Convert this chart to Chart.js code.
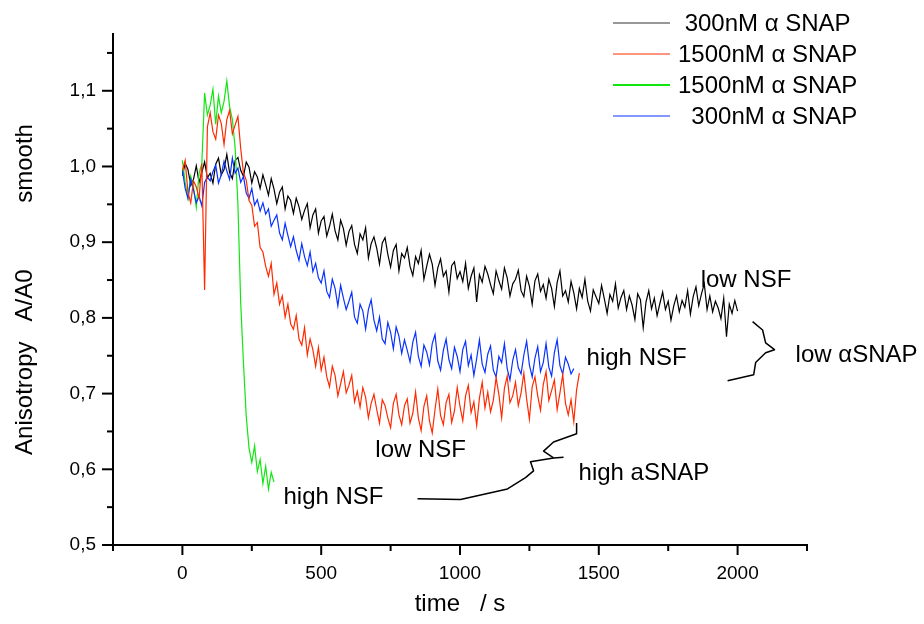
<!DOCTYPE html>
<html>
<head>
<meta charset="utf-8">
<script src="https://cdn.jsdelivr.net/npm/chart.js@4.4.1/dist/chart.umd.min.js"></script>
<style>
  html, body { margin: 0; padding: 0; background: #fff; }
</style>
</head>
<body>
<canvas id="chart" width="924" height="624"></canvas>
<script>
// sampling step of the traces, in seconds
const dt = 10;

const seriesLabels = [" 300nM \u03B1 SNAP", "1500nM \u03B1 SNAP", "1500nM \u03B1 SNAP", "  300nM \u03B1 SNAP"];
const seriesColors = ["#000000", "#ff2a00", "#11e611", "#0a32ff"];

// 300nM aSNAP, low NSF (black)
const lowSnapLowNsf = [
  0.988, 1.004, 0.996, 0.975, 0.983, 1.001, 0.979, 0.992, 1.006, 0.985,
  0.991, 0.978, 1.003, 1.011, 0.989, 0.996, 1.016, 0.992, 0.984, 1.008,
  1.012, 0.995, 0.987, 1.006, 0.999, 0.978, 0.993, 0.986, 0.971, 0.989,
  0.976, 0.962, 0.984, 0.970, 0.951, 0.966, 0.973, 0.944, 0.961, 0.955,
  0.938, 0.958, 0.947, 0.930, 0.942, 0.951, 0.919, 0.936, 0.944, 0.912,
  0.928, 0.934, 0.908, 0.921, 0.937, 0.915, 0.903, 0.929, 0.918, 0.896,
  0.914, 0.922, 0.897, 0.885, 0.911, 0.903, 0.919, 0.879, 0.898, 0.907,
  0.892, 0.871, 0.899, 0.906, 0.884, 0.867, 0.889, 0.897, 0.862, 0.885,
  0.879, 0.893, 0.868, 0.856, 0.881, 0.872, 0.889, 0.851, 0.868, 0.884,
  0.871, 0.843, 0.866, 0.878, 0.855, 0.862, 0.834, 0.869, 0.874, 0.852,
  0.861, 0.848, 0.872, 0.839, 0.855, 0.866, 0.821, 0.857, 0.847, 0.868,
  0.858, 0.844, 0.832, 0.862, 0.849, 0.838, 0.866, 0.853, 0.829, 0.845,
  0.851, 0.863, 0.836, 0.828, 0.855, 0.842, 0.818, 0.849, 0.858, 0.835,
  0.844, 0.826, 0.851, 0.839, 0.815, 0.847, 0.862, 0.829, 0.836, 0.821,
  0.848, 0.833, 0.812, 0.839, 0.827, 0.851, 0.822, 0.809, 0.837, 0.828,
  0.819, 0.843, 0.825, 0.806, 0.831, 0.822, 0.845, 0.813, 0.827, 0.836,
  0.811, 0.829, 0.817, 0.798, 0.832, 0.824, 0.787, 0.821, 0.836, 0.812,
  0.826, 0.803, 0.819, 0.834, 0.811, 0.822, 0.797, 0.816, 0.829, 0.808,
  0.823, 0.814, 0.836, 0.805, 0.828, 0.841, 0.816, 0.832, 0.845, 0.811,
  0.829, 0.808, 0.822, 0.813, 0.799, 0.826, 0.775, 0.818, 0.806, 0.823,
  0.809
];

// 1500nM aSNAP, low NSF (red)
const highSnapLowNsf = [
  0.995, 1.008, 0.966, 0.952, 0.981, 0.973, 0.958, 1.004, 0.837, 1.052,
  1.071, 1.046, 1.036, 1.068, 1.057, 1.029, 1.062, 1.074, 1.043, 1.055,
  1.066, 1.024, 0.991, 0.982, 0.955, 0.949, 0.921, 0.926, 0.893, 0.887,
  0.868, 0.855, 0.872, 0.831, 0.846, 0.818, 0.829, 0.801, 0.818, 0.792,
  0.785, 0.803, 0.772, 0.764, 0.787, 0.751, 0.772, 0.758, 0.736, 0.761,
  0.731, 0.748, 0.722, 0.709, 0.736, 0.724, 0.697, 0.713, 0.729, 0.701,
  0.711, 0.724, 0.689, 0.703, 0.682, 0.708, 0.695, 0.668, 0.687, 0.699,
  0.679, 0.661, 0.692, 0.684, 0.668, 0.655, 0.687, 0.699, 0.672, 0.659,
  0.684, 0.693, 0.661, 0.674, 0.702, 0.668, 0.651, 0.683, 0.697, 0.664,
  0.648, 0.679, 0.706, 0.671, 0.659, 0.688, 0.699, 0.662, 0.677, 0.708,
  0.683, 0.664, 0.697, 0.711, 0.675, 0.689, 0.658, 0.694, 0.715, 0.681,
  0.702, 0.676, 0.691, 0.721, 0.699, 0.668, 0.707, 0.723, 0.688, 0.697,
  0.715, 0.684, 0.701, 0.727, 0.693, 0.666, 0.709, 0.722, 0.697, 0.678,
  0.712, 0.729, 0.691, 0.704, 0.718, 0.679, 0.701, 0.725, 0.687, 0.672,
  0.692, 0.663, 0.705, 0.727
];

// 1500nM aSNAP, high NSF (green)
const highSnapHighNsf = [
  1.008, 0.979, 0.958, 0.987, 0.972, 0.946, 0.991, 1.004, 1.097, 1.068,
  1.081, 1.102, 1.056, 1.093, 1.071, 1.086, 1.113, 1.079, 1.062, 1.024,
  0.950, 0.820, 0.740, 0.670, 0.628, 0.609, 0.631, 0.597, 0.613, 0.581,
  0.604, 0.574, 0.596, 0.583
];

// 300nM aSNAP, high NSF (blue)
const lowSnapHighNsf = [
  0.995, 0.971, 0.958, 0.983, 0.969, 0.952, 0.961, 0.948, 0.979, 0.986,
  0.981, 0.993, 1.002, 0.978, 0.989, 1.007, 0.994, 0.983, 1.011, 0.991,
  0.998, 0.979, 0.987, 0.965, 0.958, 0.971, 0.949, 0.956, 0.941, 0.952,
  0.937, 0.944, 0.921, 0.929, 0.936, 0.912, 0.903, 0.925, 0.909, 0.894,
  0.907, 0.889, 0.876, 0.898, 0.881, 0.869, 0.887, 0.861, 0.872, 0.853,
  0.846, 0.862, 0.835, 0.827, 0.851, 0.839, 0.816, 0.843, 0.826, 0.811,
  0.822, 0.834, 0.801, 0.793, 0.818, 0.809, 0.785, 0.811, 0.824, 0.797,
  0.783, 0.801, 0.772, 0.766, 0.794, 0.781, 0.759, 0.788, 0.776, 0.753,
  0.771, 0.757, 0.742, 0.768, 0.781, 0.749, 0.736, 0.764, 0.755, 0.738,
  0.766, 0.778, 0.743, 0.731, 0.757, 0.772, 0.745, 0.733, 0.761, 0.749,
  0.729, 0.758, 0.769, 0.737, 0.751, 0.724, 0.746, 0.771, 0.739, 0.728,
  0.752, 0.763, 0.731, 0.722, 0.749, 0.741, 0.766, 0.733, 0.718, 0.744,
  0.758, 0.734, 0.726, 0.751, 0.769, 0.738, 0.722, 0.747, 0.762, 0.729,
  0.741, 0.766, 0.735, 0.723, 0.754, 0.771, 0.737, 0.726, 0.748, 0.739,
  0.726, 0.733
];

const xTicks = [-250, 0, 250, 500, 750, 1000, 1250, 1500, 1750, 2000, 2250];
const xLabels = ["", "0", "", "500", "", "1000", "", "1500", "", "2000", ""];
const yTicks = [0.5, 0.55, 0.6, 0.65, 0.7, 0.75, 0.8, 0.85, 0.9, 0.95, 1.0, 1.05, 1.1, 1.15];
const yLabels = ["0,5", "", "0,6", "", "0,7", "", "0,8", "", "0,9", "", "1,0", "", "1,1", ""];

// hand drawn labels and braces, in data units (time, anisotropy)
const notes = [
  { text: "low NSF", t: 1867, v: 0.841 },
  { text: "high NSF", t: 1456, v: 0.738 },
  { text: "low \u03B1SNAP", t: 2209, v: 0.742 },
  { text: "low NSF", t: 695, v: 0.616 },
  { text: "high NSF", t: 364, v: 0.554 },
  { text: "high aSNAP", t: 1427, v: 0.586 }
];
const braces = [
  [[2054, 0.795], [2090, 0.784], [2101, 0.767], [2133, 0.758], [2101, 0.754], [2065, 0.741], [2058, 0.725], [1964, 0.717]],
  [[1420, 0.661], [1420, 0.647], [1337, 0.636], [1301, 0.624], [1337, 0.615], [1373, 0.616]],
  [[1337, 0.615], [1254, 0.610], [1265, 0.598], [1236, 0.589], [1171, 0.574], [1002, 0.560], [847, 0.561]]
];

const FONT = "'Liberation Sans', Arial, sans-serif";

function toPoints(values) {
  return values.map((v, i) => ({ x: i * dt, y: v }));
}

const traces = [lowSnapLowNsf, highSnapLowNsf, highSnapHighNsf, lowSnapHighNsf];
const drawOrder = [3, 0, 2, 1];

const decorations = {
  id: "decorations",
  afterDraw(chart) {
    const ctx = chart.ctx;
    const xs = chart.scales.x, ys = chart.scales.y;
    const area = chart.chartArea;
    ctx.save();
    ctx.strokeStyle = "#000";
    ctx.lineWidth = 2;
    // tick marks, outside the axes
    xTicks.forEach((v, i) => {
      const px = xs.getPixelForValue(v);
      const len = xLabels[i] !== "" ? 10 : 6;
      ctx.beginPath();
      ctx.moveTo(px, area.bottom);
      ctx.lineTo(px, area.bottom + len);
      ctx.stroke();
    });
    yTicks.forEach((v, i) => {
      const py = ys.getPixelForValue(v);
      const len = yLabels[i] !== "" ? 11 : 6;
      ctx.beginPath();
      ctx.moveTo(area.left, py);
      ctx.lineTo(area.left - len, py);
      ctx.stroke();
    });

    // braces
    ctx.lineWidth = 1.5;
    ctx.lineJoin = "round";
    braces.forEach(path => {
      ctx.beginPath();
      path.forEach(([t, v], k) => {
        const px = xs.getPixelForValue(t), py = ys.getPixelForValue(v);
        if (k === 0) ctx.moveTo(px, py); else ctx.lineTo(px, py);
      });
      ctx.stroke();
    });

    // notes
    ctx.fillStyle = "#000";
    ctx.font = "24px " + FONT;
    ctx.textBaseline = "alphabetic";
    ctx.textAlign = "left";
    notes.forEach(n => {
      ctx.fillText(n.text, xs.getPixelForValue(n.t), ys.getPixelForValue(n.v));
    });

    // legend
    ctx.font = "24px " + FONT;
    ctx.textBaseline = "middle";
    chart.data.datasets.forEach((ds, i) => {
      const y = 23 + i * 31;
      ctx.strokeStyle = i === 0 ? "#333" : ds.borderColor;
      ctx.lineWidth = i === 2 ? 2 : 1.2;
      ctx.beginPath();
      ctx.moveTo(613, y);
      ctx.lineTo(670, y);
      ctx.stroke();
      ctx.fillText(ds.label, 678, y + 1);
    });
    ctx.restore();
  }
};

new Chart(document.getElementById("chart"), {
  type: "line",
  data: {
    datasets: traces.map((vals, i) => ({
      label: seriesLabels[i],
      data: toPoints(vals),
      borderColor: seriesColors[i],
      borderWidth: 1.2,
      pointRadius: 0,
      tension: 0,
      fill: false,
      order: drawOrder[i]
    }))
  },
  options: {
    responsive: false,
    animation: false,
    devicePixelRatio: 1,
    layout: { padding: { top: 34, right: 117, left: 0, bottom: 0 } },
    plugins: {
      legend: { display: false },
      tooltip: { enabled: false }
    },
    scales: {
      x: {
        type: "linear",
        min: -250,
        max: 2250,
        afterBuildTicks: s => { s.ticks = xTicks.map(v => ({ value: v })); },
        afterFit: s => { s.height = 79; s.paddingLeft = 0; s.paddingRight = 0; },
        grid: { display: false, drawTicks: false },
        border: { display: true, color: "#000", width: 2 },
        ticks: {
          color: "#000",
          font: { family: FONT, size: 19 },
          padding: 17,
          maxRotation: 0,
          autoSkip: false,
          callback: (v, i) => xLabels[i]
        },
        title: {
          display: true,
          text: "time   / s",
          color: "#000",
          font: { family: FONT, size: 24 },
          padding: { top: 0, bottom: 5 }
        }
      },
      y: {
        type: "linear",
        min: 0.5,
        max: 1.175,
        afterBuildTicks: s => { s.ticks = yTicks.map(v => ({ value: v })); },
        afterFit: s => { s.width = 113; s.paddingTop = 0; s.paddingBottom = 0; },
        grid: { display: false, drawTicks: false },
        border: { display: true, color: "#000", width: 2 },
        ticks: {
          color: "#000",
          font: { family: FONT, size: 19 },
          padding: 17,
          autoSkip: false,
          callback: (v, i) => yLabels[i]
        },
        title: {
          display: true,
          text: "Anisotropy   A/A0          smooth",
          color: "#000",
          font: { family: FONT, size: 24 },
          padding: { top: 11, bottom: 0 }
        }
      }
    }
  },
  plugins: [decorations]
});
</script>
</body>
</html>
